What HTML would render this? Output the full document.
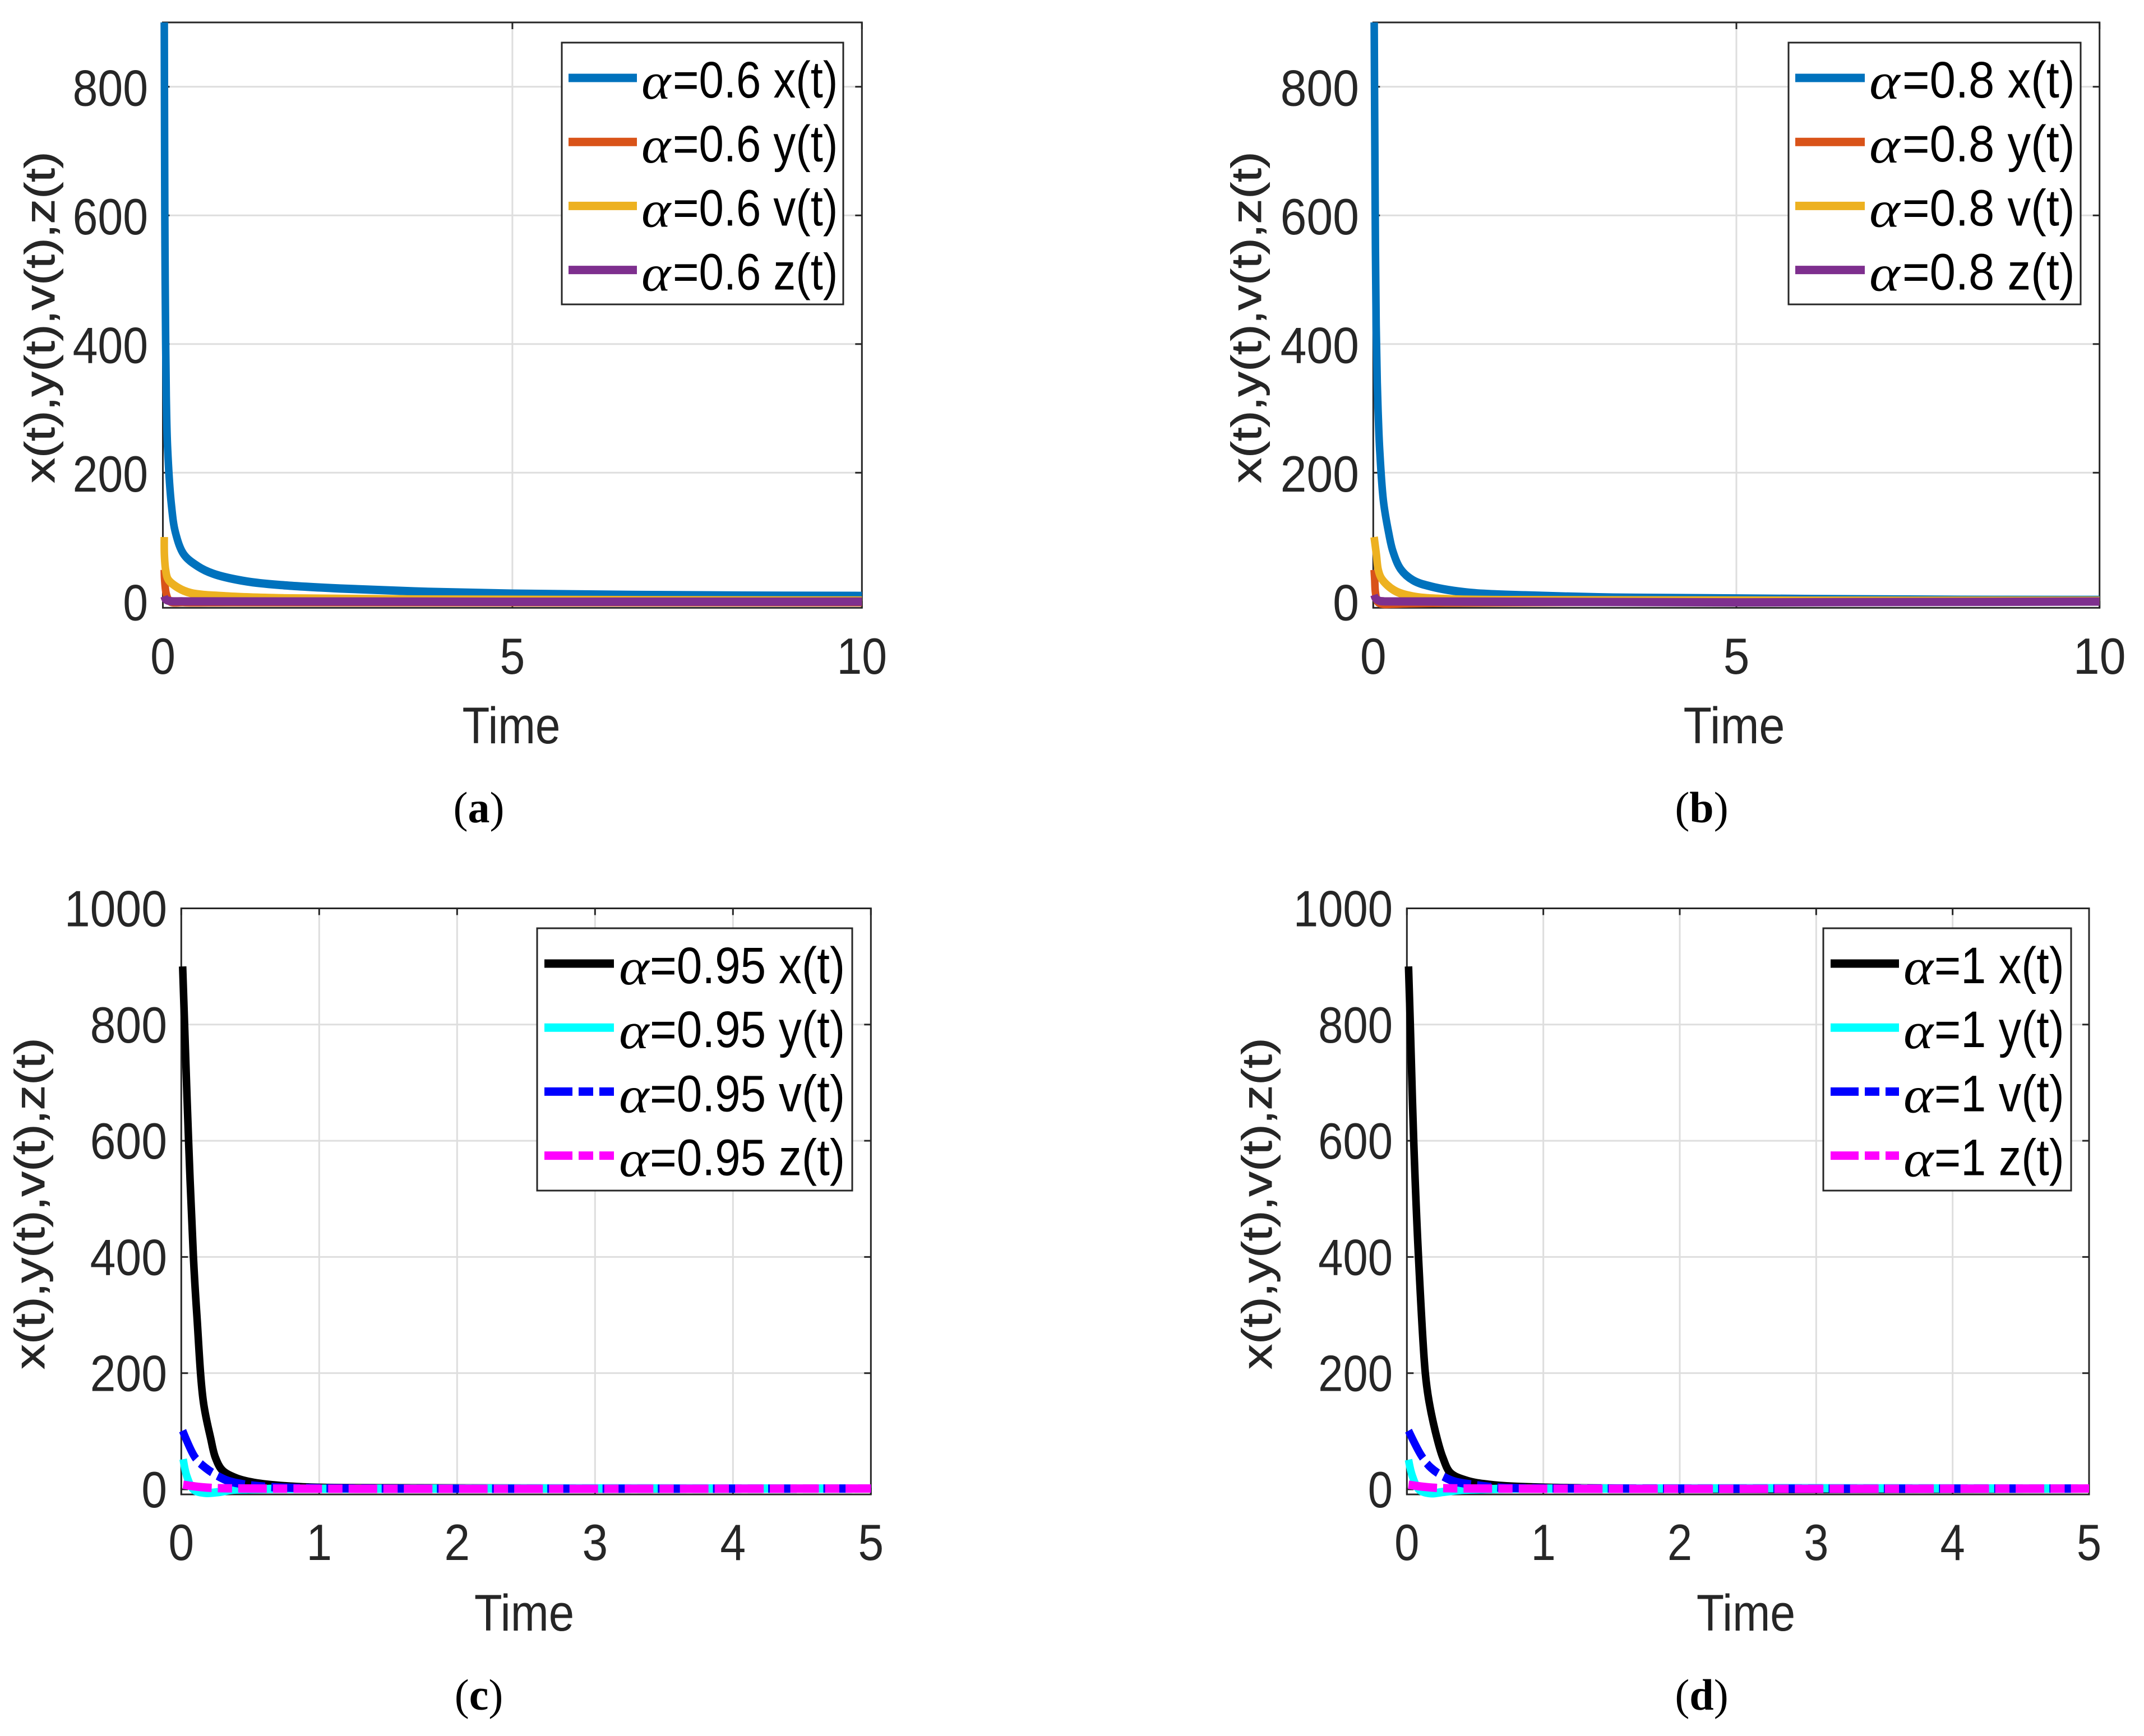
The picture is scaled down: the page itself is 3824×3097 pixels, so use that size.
<!DOCTYPE html>
<html lang="en">
<head>
<meta charset="utf-8">
<title>Fractional-order state trajectories</title>
<style>
html,body{margin:0;padding:0;background:#fff;}
svg{display:block;}
text{font-family:"Liberation Sans",sans-serif;}
</style>
</head>
<body>
<svg id="figure" xmlns="http://www.w3.org/2000/svg" width="3824" height="3097" viewBox="0 0 3824 3097">
<rect x="0" y="0" width="3824" height="3097" fill="#fff"/>
<text x="854" y="1467" text-anchor="middle" font-size="78" fill="#000" style="font-family:'Liberation Serif',serif">(<tspan font-weight="bold">a</tspan>)</text>
<text x="3035" y="1467" text-anchor="middle" font-size="78" fill="#000" style="font-family:'Liberation Serif',serif">(<tspan font-weight="bold">b</tspan>)</text>
<text x="854" y="3050" text-anchor="middle" font-size="78" fill="#000" style="font-family:'Liberation Serif',serif">(<tspan font-weight="bold">c</tspan>)</text>
<text x="3035" y="3050" text-anchor="middle" font-size="78" fill="#000" style="font-family:'Liberation Serif',serif">(<tspan font-weight="bold">d</tspan>)</text>
</svg>
<script>
// ---- Tick labels ----
const xTicksLong = [0, 5, 10];
const xTicksShort = [0, 1, 2, 3, 4, 5];
const yTicksTop = [0, 200, 400, 600, 800];
const yTicksBottom = [0, 200, 400, 600, 800, 1000];
const yLabelText = 'x(t),y(t),v(t),z(t)';
const xLabelText = 'Time';

// ---- Panel (a), alpha = 0.6 ----
const aTimeX = [0.02, 0.025, 0.03, 0.04, 0.05, 0.068, 0.122, 0.18, 0.30, 0.50, 0.72, 1.2, 1.73, 2.53, 3.6, 5, 8.3, 10];
const aValueX = [900, 700, 550, 400, 310, 237, 150, 107, 73, 54.5, 43, 31, 25, 20, 15.5, 12, 9, 8.5];
const aTimeY = [0.02, 0.025, 0.05, 0.1, 0.3, 1, 10];
const aValueY = [49, 34, 11, 0, -1.3, -1.4, -1.3];
const aTimeV = [0.02, 0.022, 0.04, 0.076, 0.22, 0.40, 0.93, 1.73, 3.6, 10];
const aValueV = [100, 72, 48.6, 34, 21, 13, 7.7, 4.8, 3, 1.3];
const aTimeZ = [0.018, 0.04, 0.1, 0.3, 10];
const aValueZ = [8, 3, 0.5, 0, -0.4];

// ---- Panel (b), alpha = 0.8 ----
const bTimeX = [0.013, 0.02, 0.03, 0.04, 0.055, 0.07, 0.088, 0.141, 0.21, 0.27, 0.378, 0.545, 0.80, 1.32, 2.09, 3.1, 3.63, 8.1, 10];
const bValueX = [900, 750, 550, 430, 340, 285, 237, 155, 108, 78, 50, 33, 23, 13.5, 9.4, 6.4, 5.6, 2.5, 2.2];
const bTimeY = [0.012, 0.02, 0.03, 0.06, 0.13, 0.25, 0.5, 1.0, 3.46, 10];
const bValueY = [49, 34, 14, -0.5, -4, -4, -3, -2, -0.5, -0.2];
const bTimeV = [0.012, 0.044, 0.07, 0.12, 0.29, 0.545, 1.06, 2, 10];
const bValueV = [100, 72, 48.6, 34.4, 17, 7.7, 3.3, 2, 1];
const bTimeZ = [0.012, 0.03, 0.08, 0.15, 10];
const bValueZ = [10, 5, 1, 0, -0.3];

// ---- Panel (c), alpha = 0.95 ----
const cTimeX = [0.01, 0.024, 0.053, 0.088, 0.113, 0.16, 0.214, 0.247, 0.298, 0.393, 0.527, 0.867, 1.5, 5];
const cValueX = [900, 800, 600, 400, 300, 151, 87, 55, 32.7, 19.6, 11.3, 3.8, 2, 1.4];
const cTimeY = [0.014, 0.04, 0.088, 0.17, 0.26, 0.365, 0.487, 0.7, 5];
const cValueY = [52, 23, 0, -6, -5, -1, 0, 1, 1.4];
const cTimeV = [0.01, 0.10, 0.176, 0.324, 0.46, 0.65, 1, 5];
const cValueV = [101, 55, 37, 16, 8.4, 4, 2, 1.4];
const cTimeZ = [0.014, 0.1, 0.21, 0.4, 5];
const cValueZ = [8, 5, 2.6, 1.6, 1.4];

// ---- Panel (d), alpha = 1 ----
const dTimeX = [0.012, 0.025, 0.05, 0.085, 0.135, 0.1625, 0.222, 0.263, 0.32, 0.44, 0.6, 1, 5];
const dValueX = [900, 800, 600, 400, 200, 151, 87, 55, 28, 14.7, 8, 3, 1.4];
const dTimeY = [0.012, 0.04, 0.088, 0.17, 0.266, 0.40, 0.54, 0.8, 5];
const dValueY = [51, 23, 0, -6.6, -4.5, -1, 0, 1.3, 1.4];
const dTimeV = [0.012, 0.109, 0.177, 0.32, 0.47, 0.68, 1, 5];
const dValueV = [101, 57, 37, 16, 8.4, 3, 1.8, 1.4];
const dTimeZ = [0.012, 0.1, 0.21, 0.4, 5];
const dValueZ = [8, 5, 2.6, 1.6, 1.4];

const NS = 'http://www.w3.org/2000/svg';
const root = document.getElementById('figure');
const AXIS = '#262626';
const GRID = '#dedede';
const LW = 15;
const STRETCH = 0.9;
const DASH = '56.7 12.2 28.3 12.2';

function make(tag, attrs, parent) {
  const node = document.createElementNS(NS, tag);
  for (const k in attrs) node.setAttribute(k, attrs[k]);
  parent.appendChild(node);
  return node;
}

function makeText(str, x, y, size, sx, anchor, fill, parent) {
  const t = make('text', {
    transform: 'translate(' + x + ' ' + y + ') scale(' + sx + ' 1)',
    'font-size': size, 'text-anchor': anchor, fill: fill
  }, parent);
  t.textContent = str;
  return t;
}

// Centripetal Catmull-Rom spline through the data points.
function curvePath(px, py) {
  const n = px.length;
  const dist = (i, j) => Math.sqrt(Math.hypot(px[j] - px[i], py[j] - py[i]));
  let s = 'M' + px[0].toFixed(2) + ' ' + py[0].toFixed(2);
  for (let i = 0; i < n - 1; i++) {
    const i0 = Math.max(i - 1, 0), i3 = Math.min(i + 2, n - 1);
    const d1 = i > 0 ? dist(i0, i) : 0;
    const d2 = dist(i, i + 1);
    const d3 = i + 2 < n ? dist(i + 1, i3) : 0;
    let b1x = px[i], b1y = py[i], b2x = px[i + 1], b2y = py[i + 1];
    if (d1 > 0) {
      const a = 2 * d1 * d1 + 3 * d1 * d2 + d2 * d2, c = 3 * d1 * (d1 + d2);
      b1x = (d1 * d1 * px[i + 1] - d2 * d2 * px[i0] + a * px[i]) / c;
      b1y = (d1 * d1 * py[i + 1] - d2 * d2 * py[i0] + a * py[i]) / c;
    }
    if (d3 > 0) {
      const a = 2 * d3 * d3 + 3 * d3 * d2 + d2 * d2, c = 3 * d3 * (d3 + d2);
      b2x = (d3 * d3 * px[i] - d2 * d2 * px[i3] + a * px[i + 1]) / c;
      b2y = (d3 * d3 * py[i] - d2 * d2 * py[i3] + a * py[i + 1]) / c;
    }
    s += 'C' + b1x.toFixed(2) + ' ' + b1y.toFixed(2) + ' ' + b2x.toFixed(2) + ' ' + b2y.toFixed(2) + ' ' + px[i + 1].toFixed(2) + ' ' + py[i + 1].toFixed(2);
  }
  return s;
}

function drawPanel(p) {
  const g = make('g', {}, root);
  
  

  const xScale = t => p.left + (t / p.xMax) * (p.right - p.left);
  const yScale = v => p.bottom - ((v - p.yMin) / (p.yMax - p.yMin)) * (p.bottom - p.top);

  // gridlines
  p.xTicks.forEach(t => {
    if (t === 0 || t === p.xMax) return;
    const grid = make('line', { x1: xScale(t), x2: xScale(t), y1: p.top, y2: p.bottom, stroke: GRID, 'stroke-width': 3 }, g);
    
    
  });
  p.yTicks.forEach(v => {
    if (v === p.yMax || v === 0) return;
    const grid = make('line', { x1: p.left, x2: p.right, y1: yScale(v), y2: yScale(v), stroke: GRID, 'stroke-width': 3 }, g);
    
    
  });

  // plot box
  const box = make('rect', { x: p.left, y: p.top, width: p.right - p.left, height: p.bottom - p.top, fill: 'none', stroke: AXIS, 'stroke-width': 3 }, g);
  
  

  // ticks + labels
  p.xTicks.forEach(t => {
    const x = xScale(t);
    const tickB = make('line', { x1: x, x2: x, y1: p.bottom, y2: p.bottom - 12, stroke: AXIS, 'stroke-width': 3 }, g);
    
    
    const tickT = make('line', { x1: x, x2: x, y1: p.top, y2: p.top + 12, stroke: AXIS, 'stroke-width': 3 }, g);
    
    
    const label = makeText(String(t), x, p.xTickBase, 91, p.tickScale, 'middle', AXIS, g);
    
    
  });
  p.yTicks.forEach(v => {
    const y = yScale(v);
    const tickL = make('line', { x1: p.left, x2: p.left + 12, y1: y, y2: y, stroke: AXIS, 'stroke-width': 3 }, g);
    
    
    const tickR = make('line', { x1: p.right, x2: p.right - 12, y1: y, y2: y, stroke: AXIS, 'stroke-width': 3 }, g);
    
    
    const label = makeText(String(v), p.yTickRight, y + p.yTickShift, 91, p.tickScale, 'end', AXIS, g);
    
    
  });

  // axis titles
  const xTitle = makeText(xLabelText, p.xTitleX, p.xTitleY, 92, p.xTitleScale, 'middle', AXIS, g);
  
  
  const yTitle = make('text', {
    transform: 'translate(' + p.yTitleX + ' ' + p.yTitleY + ') rotate(-90) scale(1 0.84)',
    'font-size': 89.5, 'text-anchor': 'middle', fill: AXIS, stroke: AXIS, 'stroke-width': 1
  }, g);
  yTitle.textContent = yLabelText;
  
  

  // series (drawn through a slight horizontal squeeze, matching the figure's anisotropic strokes)
  p.series.forEach(s => {
    const px = s.time.map(t => xScale(t) / STRETCH);
    const py = s.value.map(yScale);
    const attrs = { d: curvePath(px, py), transform: 'scale(' + STRETCH + ' 1)', fill: 'none', stroke: s.color, 'stroke-width': LW, 'stroke-linejoin': 'round' };
    if (s.dashed) attrs['stroke-dasharray'] = DASH;
    const line = make('path', attrs, g);
    
    
  });

  // legend
  const lg = make('g', {}, g);
  
  
  const lbox = make('rect', { x: p.legend.left, y: p.legend.top, width: p.legend.right - p.legend.left, height: p.legend.bottom - p.legend.top, fill: '#fff', stroke: AXIS, 'stroke-width': 3 }, lg);
  
  
  p.series.forEach((s, i) => {
    const rowY = p.legend.firstRow + i * 114.2;
    const attrs = { x1: p.legend.lineL, x2: p.legend.lineR, y1: rowY, y2: rowY, stroke: s.color, 'stroke-width': LW };
    if (s.dashed) attrs['stroke-dasharray'] = '50 11 26 11 26';
    const sample = make('line', attrs, lg);
    
    
    const alpha = makeText('\u03B1', p.legend.alphaX, rowY + 37, 92, p.legend.scale * 1.25, 'start', '#000', lg);
    alpha.style.fontFamily = '"Liberation Serif",serif';
    alpha.style.fontStyle = 'italic';
    
    
    const label = makeText('=' + p.alpha + ' ' + s.key + '(t)', p.legend.textX, rowY + 35, 92, p.legend.scale, 'start', '#000', lg);
    
    
  });
}

const matlab = ['#0072BD', '#D95319', '#EDB120', '#7E2F8E'];
const bright = ['#000000', '#00FFFF', '#0000FF', '#FF00FF'];

drawPanel({
  id: 'a', alpha: '0.6', left: 290.5, right: 1537.3, top: 40, bottom: 1084.3,
  xMax: 10, yMin: -10, yMax: 900, xTicks: xTicksLong, yTicks: yTicksTop,
  tickScale: 0.885, xTickBase: 1202, yTickRight: 264, yTickShift: 33.5,
  xTitleX: 912, xTitleY: 1326, xTitleScale: 0.87, yTitleX: 97, yTitleY: 566,
  legend: { left: 1002, right: 1504, top: 76, bottom: 543, firstRow: 139, lineL: 1014, lineR: 1136, alphaX: 1144, textX: 1200, scale: 0.866 },
  series: [
    { key: 'x', color: matlab[0], time: aTimeX, value: aValueX },
    { key: 'y', color: matlab[1], time: aTimeY, value: aValueY },
    { key: 'v', color: matlab[2], time: aTimeV, value: aValueV },
    { key: 'z', color: matlab[3], time: aTimeZ, value: aValueZ }
  ]
});

drawPanel({
  id: 'b', alpha: '0.8', left: 2449.3, right: 3744.7, top: 40, bottom: 1084.3,
  xMax: 10, yMin: -10, yMax: 900, xTicks: xTicksLong, yTicks: yTicksTop,
  tickScale: 0.925, xTickBase: 1202, yTickRight: 2424, yTickShift: 33.5,
  xTitleX: 3093, xTitleY: 1326, xTitleScale: 0.9, yTitleX: 2249, yTitleY: 566,
  legend: { left: 3190, right: 3711, top: 76, bottom: 543, firstRow: 139, lineL: 3202, lineR: 3326, alphaX: 3334, textX: 3393, scale: 0.905 },
  series: [
    { key: 'x', color: matlab[0], time: bTimeX, value: bValueX },
    { key: 'y', color: matlab[1], time: bTimeY, value: bValueY },
    { key: 'v', color: matlab[2], time: bTimeV, value: bValueV },
    { key: 'z', color: matlab[3], time: bTimeZ, value: bValueZ }
  ]
});

drawPanel({
  id: 'c', alpha: '0.95', left: 323.3, right: 1553.3, top: 1620.5, bottom: 2666,
  xMax: 5, yMin: -8.7, yMax: 1000, xTicks: xTicksShort, yTicks: yTicksBottom,
  tickScale: 0.905, xTickBase: 2783, yTickRight: 298, yTickShift: 32,
  xTitleX: 935, xTitleY: 2909, xTitleScale: 0.887, yTitleX: 79, yTitleY: 2147,
  legend: { left: 958, right: 1520, top: 1656, bottom: 2124, firstRow: 1719, lineL: 971, lineR: 1095, alphaX: 1104, textX: 1159, scale: 0.89 },
  series: [
    { key: 'x', color: bright[0], time: cTimeX, value: cValueX },
    { key: 'y', color: bright[1], time: cTimeY, value: cValueY },
    { key: 'v', color: bright[2], time: cTimeV, value: cValueV, dashed: true },
    { key: 'z', color: bright[3], time: cTimeZ, value: cValueZ, dashed: true }
  ]
});

drawPanel({
  id: 'd', alpha: '1', left: 2509.3, right: 3726, top: 1620.5, bottom: 2666,
  xMax: 5, yMin: -8.7, yMax: 1000, xTicks: xTicksShort, yTicks: yTicksBottom,
  tickScale: 0.875, xTickBase: 2783, yTickRight: 2484, yTickShift: 32,
  xTitleX: 3114, xTitleY: 2909, xTitleScale: 0.877, yTitleX: 2268, yTitleY: 2147,
  legend: { left: 3252, right: 3694, top: 1656, bottom: 2124, firstRow: 1719, lineL: 3265, lineR: 3387, alphaX: 3395, textX: 3450, scale: 0.88 },
  series: [
    { key: 'x', color: bright[0], time: dTimeX, value: dValueX },
    { key: 'y', color: bright[1], time: dTimeY, value: dValueY },
    { key: 'v', color: bright[2], time: dTimeV, value: dValueV, dashed: true },
    { key: 'z', color: bright[3], time: dTimeZ, value: dValueZ, dashed: true }
  ]
});
</script>
</body>
</html>
